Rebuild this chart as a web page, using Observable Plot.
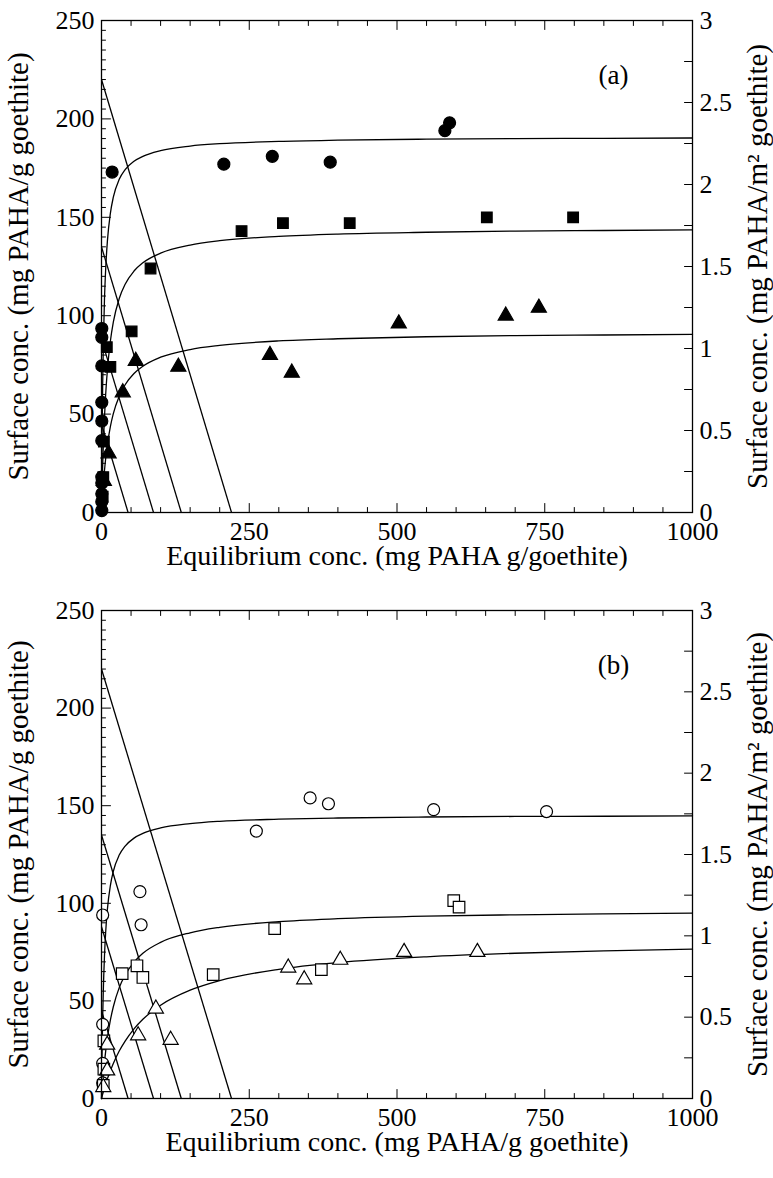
<!DOCTYPE html>
<html><head><meta charset="utf-8">
<script src="https://cdn.jsdelivr.net/npm/d3@7"></script>
<script src="https://cdn.jsdelivr.net/npm/@observablehq/plot@0.6"></script>
<style>body{margin:0;background:#fff} svg{display:block} #chart{width:773px}</style>
</head><body><div id="chart"></div>
<script>
// ---- axes / ticks ----
const xTicks = [0, 250, 500, 750, 1000];
const xMinorStep = 50;
const yTicks = [0, 50, 100, 150, 200, 250];
const yMinorStep = 5;
const rightTickLabels = [0, 0.5, 1, 1.5, 2, 2.5, 3];
const rightMinorStep = 0.25;
const rightMax = 3;            // 250 mg/g  <->  3 mg/m2
const leftMax = 250;

// ---- mass-balance lines (y-intercept = x-intercept) ----
const balanceIntercepts = [220, 135, 88, 45];

// ---- fitted isotherm curves ----
const curveX = [0,0.5,1,2,3,5,7,10,15,20,30,40,55,70,100,150,200,300,400,550,700,850,1000];
const aTopY = [0,22,39.4,65.3,83.7,108,123.3,138,152,160.2,169.3,174.2,178.5,181,183.9,186.2,187.4,188.6,189.2,189.7,190,190.1,190.3];
const aMidY = [0,6.9,13.2,24.2,33.5,48.3,59.7,72.5,87,96.7,108.75,116,122.7,126.9,131.8,135.9,138.1,140.3,141.5,142.4,143,143.3,143.6];
const aBotY = [0,1.4,5.2,9.9,14,21.2,27.2,34.5,43.6,50.2,59.1,64.9,70.6,74.3,78.9,82.8,84.9,87.2,88.3,89.3,89.9,90.2,90.5];
const bTopY = [0,13.2,24.25,41.6,54.6,72.75,84.9,97,109.1,116.4,124.7,129.3,133.4,135.8,138.6,140.8,142,143.1,143.7,144.2,144.5,144.6,144.8];
const bMidY = [0,2.2,4.35,8.3,12,18.5,24,31,40.1,47,56.8,63.3,69.9,74.4,80,84.9,87.7,90.6,92.1,93.4,94.1,94.6,95];
const bBotY = [0,0.57,1.13,2.25,3.3,5.4,7.3,10.1,14.2,17.9,24.3,29.4,35.7,40.6,47.8,55.5,60.4,66.2,69.6,72.6,74.4,75.6,76.5];

// ---- panel (a) data: filled symbols ----
const aCircleX = [0.5,0.5,0.5,0.5,0.5,0.5,0.5,0.5,0.5,0.5,0.5,18,207,289,387,581,589];
const aCircleY = [93.5,89,74.5,56,46.5,36.5,18,15,9.5,5.5,1,173,177,181,178,194,198];
const aSquareX = [2,3,4,9,15,51,83,237,307,420,652,798];
const aSquareY = [8,18,36,84,74,92,124,143,147,147,150,150];
const aTriangleX = [4,12,36,58,130,285,322,503,684,740];
const aTriangleY = [16,30,61,77,74,80,71,96,100,104];

// ---- panel (b) data: open symbols ----
const bCircleX = [2,2,2,2,65,67,262,353,384,562,753];
const bCircleY = [8,18,38,94,106,89,137,154,151,148,147];
const bSquareX = [3,4,4,35,60,70,189,293,372,596,605];
const bSquareY = [6.7,15,29.5,64,68,62,63.5,87,66,101.4,98];
const bTriangleX = [3,9.6,9.6,62,92,117,316,343,404,512,636];
const bTriangleY = [5.8,14.3,27.5,32.3,46,30,67,61,71,75,75];

const FONT = "'Liberation Serif','Times New Roman',Times,serif";
const tickShape = {draw(ctx, l) { ctx.moveTo(0, 0); ctx.lineTo(0, -l); }};

function range(a, b, s) { const r = []; for (let v = a; v <= b + 1e-9; v += s) r.push(+v.toFixed(6)); return r; }
function pts(xs, ys) { return xs.map((x, i) => ({x, y: ys[i]})); }

function panel({height, marginTop, marginBottom, tag, xTitle, curves, circles, squares, triangles, filled}) {
  const xMinor = range(0, 1000, xMinorStep).filter(v => !xTicks.includes(v));
  const yMinor = range(0, leftMax, yMinorStep).filter(v => !yTicks.includes(v));
  const rMinor = range(0, rightMax, rightMinorStep).filter(v => !rightTickLabels.includes(v));
  const toLeft = v => v * leftMax / rightMax;
  const fill = filled ? "black" : "white";
  const common = {stroke: "black", strokeWidth: 1, shape: tickShape, anchor: "start"};
  const txt = {fontFamily: FONT, fill: "black", lineAnchor: "middle"};
  const marks = [
    // ticks (inward)
    Plot.vector(xTicks, {...common, x: d => d, frameAnchor: "bottom", length: 9, rotate: 0}),
    Plot.vector(xMinor, {...common, x: d => d, frameAnchor: "bottom", length: 5, rotate: 0}),
    Plot.vector(xTicks, {...common, x: d => d, frameAnchor: "top", length: 9, rotate: 180}),
    Plot.vector(xMinor, {...common, x: d => d, frameAnchor: "top", length: 5, rotate: 180}),
    Plot.vector(yTicks, {...common, y: d => d, frameAnchor: "left", length: 9, rotate: 90}),
    Plot.vector(yMinor, {...common, y: d => d, frameAnchor: "left", length: 4, rotate: 90}),
    Plot.vector(rightTickLabels, {...common, y: d => toLeft(d), frameAnchor: "right", length: 8, rotate: -90}),
    Plot.vector(rMinor, {...common, y: d => toLeft(d), frameAnchor: "right", length: 8, rotate: -90}),
    // tick labels
    Plot.text(xTicks, {...txt, x: d => d, frameAnchor: "bottom", dy: 19, textAnchor: "middle", text: d => String(d), fontSize: 26}),
    Plot.text(yTicks, {...txt, y: d => d, frameAnchor: "left", dx: -7, textAnchor: "end", text: d => String(d), fontSize: 26}),
    Plot.text(rightTickLabels, {...txt, y: d => toLeft(d), frameAnchor: "right", dx: 7, textAnchor: "start", text: d => String(d), fontSize: 26}),
    // titles
    Plot.text([xTitle], {...txt, frameAnchor: "bottom", dy: 44, textAnchor: "middle", fontSize: 28}),
    Plot.text(["Surface conc. (mg PAHA/g goethite)"], {...txt, frameAnchor: "left", dx: -83, rotate: -90, textAnchor: "middle", fontSize: 29}),
    Plot.text(["Surface conc. (mg PAHA/m² goethite)"], {...txt, frameAnchor: "right", dx: 65, rotate: -90, textAnchor: "middle", fontSize: 29}),
    Plot.text([tag], {...txt, frameAnchor: "top-right", dx: -79, dy: 55, textAnchor: "middle", fontSize: 27}),
    // mass balance lines
    Plot.link(balanceIntercepts, {x1: () => 0, y1: d => d, x2: d => d, y2: () => 0, stroke: "black", strokeWidth: 1.3}),
    // fitted curves
    ...curves.map(ys => Plot.line(pts(curveX, ys), {x: "x", y: "y", curve: "monotone-x", stroke: "black", strokeWidth: 1.3})),
    // data symbols
    Plot.dot(circles, {x: "x", y: "y", symbol: "circle", r: 6, fill, stroke: "black", strokeWidth: 1.2}),
    Plot.dot(squares, {x: "x", y: "y", symbol: "square", r: filled ? 6 : 6.5, fill, stroke: "black", strokeWidth: 1.2}),
    Plot.dot(triangles, {x: "x", y: "y", symbol: "triangle", r: 5.6, fill, stroke: "black", strokeWidth: 1.2}),
    Plot.frame({stroke: "black", strokeWidth: 1.3})
  ];
  return Plot.plot({
    width: 773, height, marginTop, marginBottom, marginLeft: 101, marginRight: 81,
    x: {domain: [0, 1000], axis: null},
    y: {domain: [0, leftMax], axis: null},
    style: {background: "white", overflow: "visible"},
    marks
  });
}

const chart = document.getElementById("chart");
chart.appendChild(panel({
  height: 570, marginTop: 20, marginBottom: 58, tag: "(a)",
  xTitle: "Equilibrium conc. (mg PAHA g/goethite)",
  curves: [aTopY, aMidY, aBotY],
  circles: pts(aCircleX, aCircleY), squares: pts(aSquareX, aSquareY), triangles: pts(aTriangleX, aTriangleY),
  filled: true
}));
chart.appendChild(panel({
  height: 608, marginTop: 40, marginBottom: 80, tag: "(b)",
  xTitle: "Equilibrium conc. (mg PAHA/g goethite)",
  curves: [bTopY, bMidY, bBotY],
  circles: pts(bCircleX, bCircleY), squares: pts(bSquareX, bSquareY), triangles: pts(bTriangleX, bTriangleY),
  filled: false
}));
</script></body></html>
